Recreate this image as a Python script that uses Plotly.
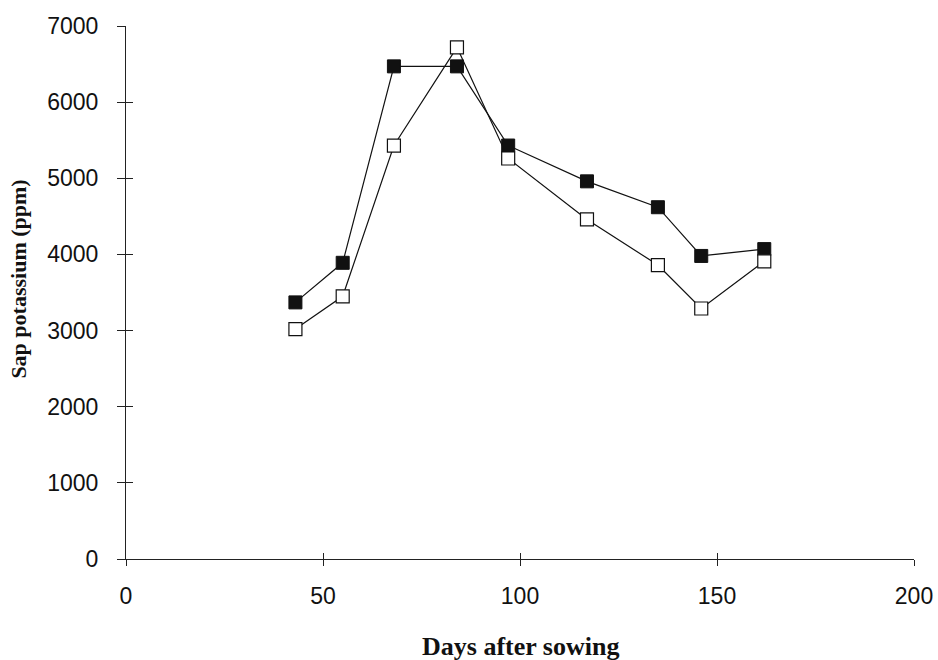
import plotly.graph_objects as go

# Sampling dates (days after sowing) and sap K concentrations (ppm)
days = [43, 55, 68, 84, 97, 117, 135, 146, 162]
sap_k_filled = [3370, 3890, 6470, 6470, 5430, 4960, 4620, 3980, 4070]
sap_k_open = [3020, 3450, 5430, 6720, 5260, 4460, 3860, 3290, 3910]

x_ticks = [0, 50, 100, 150, 200]
y_ticks = [0, 1000, 2000, 3000, 4000, 5000, 6000, 7000]

tick_font = dict(family="Liberation Sans, Arial, sans-serif", size=23, color="#111")
serif = "Liberation Serif, Times New Roman, serif"

fig = go.Figure()

fig.add_trace(go.Scatter(
    x=days, y=sap_k_filled, mode="lines+markers",
    line=dict(color="#111", width=1.2),
    marker=dict(symbol="square", size=13, color="#111",
                line=dict(color="#111", width=1)),
    showlegend=False,
))
fig.add_trace(go.Scatter(
    x=days, y=sap_k_open, mode="lines+markers",
    line=dict(color="#111", width=1.2),
    marker=dict(symbol="square", size=13, color="white",
                line=dict(color="#111", width=1.2)),
    showlegend=False,
))
# empty trace to carry the overlay axes that draw the inner half of each tick
fig.add_trace(go.Scatter(x=[None], y=[None], xaxis="x2", yaxis="y2",
                         showlegend=False, hoverinfo="skip"))

fig.update_layout(
    width=938, height=660,
    margin=dict(l=126, r=24, t=26, b=101, autoexpand=False),
    paper_bgcolor="white", plot_bgcolor="white",
    xaxis=dict(
        range=[0, 200], tickvals=x_ticks, ticktext=[str(v) for v in x_ticks],
        showgrid=False, zeroline=False, showline=True, linecolor="#222",
        linewidth=1.2, ticks="outside", ticklen=6, tickwidth=1.2,
        tickcolor="#222", tickfont=tick_font, ticklabelstandoff=10,
        automargin=False,
    ),
    yaxis=dict(
        range=[0, 7000], tickvals=y_ticks, ticktext=[str(v) for v in y_ticks],
        showgrid=False, zeroline=False, showline=True, linecolor="#222",
        linewidth=1.2, ticks="outside", ticklen=8, tickwidth=1.2,
        tickcolor="#222", tickfont=tick_font, ticklabelstandoff=14,
        automargin=False,
    ),
    xaxis2=dict(
        range=[0, 200], tickvals=x_ticks, overlaying="x", side="bottom",
        showgrid=False, zeroline=False, showline=False, showticklabels=False,
        ticks="inside", ticklen=6, tickwidth=1.2, tickcolor="#222",
        automargin=False,
    ),
    yaxis2=dict(
        range=[0, 7000], tickvals=y_ticks, overlaying="y", side="left",
        showgrid=False, zeroline=False, showline=False, showticklabels=False,
        ticks="inside", ticklen=7, tickwidth=1.2, tickcolor="#222",
        automargin=False,
    ),
    annotations=[
        dict(
            text="<b>Sap potassium (ppm)</b>", textangle=-90,
            xref="paper", yref="paper", x=-0.1365, y=0.525,
            xanchor="center", yanchor="middle", showarrow=False,
            font=dict(family=serif, size=22, color="#111"),
        ),
        dict(
            text="<b>Days after sowing</b>",
            xref="paper", yref="paper", x=0.5, y=-0.165,
            xanchor="center", yanchor="middle", showarrow=False,
            font=dict(family=serif, size=26, color="#111"),
        ),
    ],
)

fig.write_html("out.html")
